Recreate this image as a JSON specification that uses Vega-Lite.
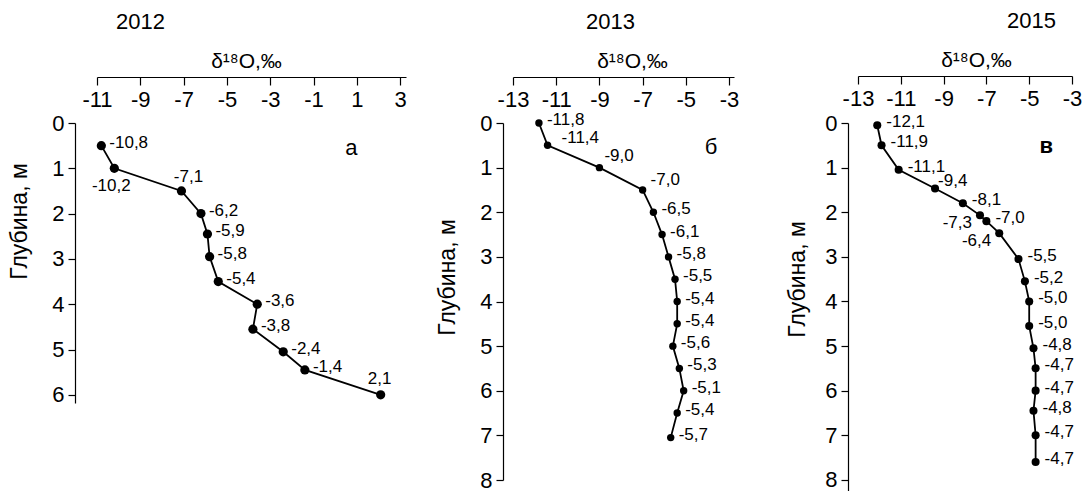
{
  "$schema": "https://vega.github.io/schema/vega-lite/v6.json",
  "padding": {"left": 8, "top": 10, "right": 0, "bottom": 0},
  "spacing": 20,
  "bounds": "flush",
  "config": {
    "view": {"stroke": null},
    "font": "Liberation Sans",
    "axis": {"grid": false, "domainColor": "black", "tickColor": "black", "labelColor": "black", "titleColor": "black", "titleFontWeight": "normal", "domainWidth": 1.2, "tickWidth": 1.2, "labelFont": "Liberation Sans", "titleFont": "Liberation Sans", "labelExpr": "'' + datum.value", "labelFlush": false, "labelOverlap": false},
    "title": {"font": "Liberation Sans", "fontSize": 22, "fontWeight": "normal", "color": "black", "anchor": "start", "frame": "group", "offset": 16},
    "text": {"font": "Liberation Sans", "fontSize": 17, "color": "black"}
  },
  "datasets": {
    "p2012": [
      {"depth": 0.5, "d18O": -10.8, "label": "-10,8"},
      {"depth": 1.0, "d18O": -10.2, "label": "-10,2"},
      {"depth": 1.5, "d18O": -7.1, "label": "-7,1"},
      {"depth": 2.0, "d18O": -6.2, "label": "-6,2"},
      {"depth": 2.45, "d18O": -5.9, "label": "-5,9"},
      {"depth": 2.95, "d18O": -5.8, "label": "-5,8"},
      {"depth": 3.5, "d18O": -5.4, "label": "-5,4"},
      {"depth": 4.0, "d18O": -3.6, "label": "-3,6"},
      {"depth": 4.55, "d18O": -3.8, "label": "-3,8"},
      {"depth": 5.05, "d18O": -2.4, "label": "-2,4"},
      {"depth": 5.45, "d18O": -1.4, "label": "-1,4"},
      {"depth": 6.0, "d18O": 2.1, "label": "2,1"}
    ],
    "p2013": [
      {"depth": 0.0, "d18O": -11.8, "label": "-11,8"},
      {"depth": 0.5, "d18O": -11.4, "label": "-11,4"},
      {"depth": 1.0, "d18O": -9.0, "label": "-9,0"},
      {"depth": 1.5, "d18O": -7.0, "label": "-7,0"},
      {"depth": 2.0, "d18O": -6.5, "label": "-6,5"},
      {"depth": 2.5, "d18O": -6.1, "label": "-6,1"},
      {"depth": 3.0, "d18O": -5.8, "label": "-5,8"},
      {"depth": 3.5, "d18O": -5.5, "label": "-5,5"},
      {"depth": 4.0, "d18O": -5.4, "label": "-5,4"},
      {"depth": 4.5, "d18O": -5.4, "label": "-5,4"},
      {"depth": 5.0, "d18O": -5.6, "label": "-5,6"},
      {"depth": 5.5, "d18O": -5.3, "label": "-5,3"},
      {"depth": 6.0, "d18O": -5.1, "label": "-5,1"},
      {"depth": 6.5, "d18O": -5.4, "label": "-5,4"},
      {"depth": 7.05, "d18O": -5.7, "label": "-5,7"}
    ],
    "p2015": [
      {"depth": 0.05, "d18O": -12.1, "label": "-12,1"},
      {"depth": 0.5, "d18O": -11.9, "label": "-11,9"},
      {"depth": 1.05, "d18O": -11.1, "label": "-11,1"},
      {"depth": 1.47, "d18O": -9.4, "label": "-9,4"},
      {"depth": 1.8, "d18O": -8.1, "label": "-8,1"},
      {"depth": 2.07, "d18O": -7.3, "label": "-7,3"},
      {"depth": 2.2, "d18O": -7.0, "label": "-7,0"},
      {"depth": 2.47, "d18O": -6.4, "label": "-6,4"},
      {"depth": 3.05, "d18O": -5.5, "label": "-5,5"},
      {"depth": 3.55, "d18O": -5.2, "label": "-5,2"},
      {"depth": 4.0, "d18O": -5.0, "label": "-5,0"},
      {"depth": 4.55, "d18O": -5.0, "label": "-5,0"},
      {"depth": 5.05, "d18O": -4.8, "label": "-4,8"},
      {"depth": 5.5, "d18O": -4.7, "label": "-4,7"},
      {"depth": 6.0, "d18O": -4.7, "label": "-4,7"},
      {"depth": 6.45, "d18O": -4.8, "label": "-4,8"},
      {"depth": 7.0, "d18O": -4.7, "label": "-4,7"},
      {"depth": 7.6, "d18O": -4.7, "label": "-4,7"}
    ]
  },
  "hconcat": [
    {
      "title": {"text": "2012", "dx": 19},
      "width": 396,
      "height": 280,
      "data": {"name": "p2012"},
      "encoding": {
        "x": {"field": "d18O", "type": "quantitative", "scale": {"domain": [-11, 3.27], "range": [0, 309], "nice": false, "zero": false},
          "axis": {"orient": "bottom", "offset": -326, "values": [-11, -9, -7, -5, -3, -1, 1, 3], "tickSize": 8, "labelPadding": 4, "labelFontSize": 22, "title": "δ¹⁸O,‰", "titleFontSize": 21, "titleX": 149, "titleY": -10, "titleAlign": "center", "titleBaseline": "alphabetic"}},
        "y": {"field": "depth", "type": "quantitative", "scale": {"domain": [0, 6.18], "reverse": true, "nice": false, "zero": false},
          "axis": {"orient": "left", "offset": 22, "values": [0, 1, 2, 3, 4, 5, 6], "tickSize": 7, "labelPadding": 4, "labelFontSize": 22, "title": "Глубина, м", "titleFontSize": 23, "titleX": -56, "titleY": 98, "titleAlign": "center", "titleBaseline": "middle", "titleAngle": -90}}
      },
      "layer": [
        {"mark": {"type": "line", "color": "black", "strokeWidth": 1.8}, "encoding": {"order": {"field": "depth", "type": "quantitative"}}},
        {"mark": {"type": "point", "filled": true, "color": "black", "opacity": 1, "size": 85}},
        {"transform": [{"filter": "datum.depth != 1 && datum.depth != 1.5 && datum.depth != 6"}], "mark": {"type": "text", "align": "left", "baseline": "middle", "dx": 8, "dy": -3}, "encoding": {"text": {"field": "label"}}},
        {"transform": [{"filter": "datum.depth == 1"}], "mark": {"type": "text", "align": "center", "baseline": "middle", "dx": -3, "dy": 18}, "encoding": {"text": {"field": "label"}}},
        {"transform": [{"filter": "datum.depth == 1.5"}], "mark": {"type": "text", "align": "center", "baseline": "middle", "dx": 7, "dy": -14}, "encoding": {"text": {"field": "label"}}},
        {"transform": [{"filter": "datum.depth == 6"}], "mark": {"type": "text", "align": "center", "baseline": "middle", "dx": -1, "dy": -16}, "encoding": {"text": {"field": "label"}}},
        {"data": {"values": [{"d18O": 0.75, "depth": 0.55, "label": "а"}]}, "mark": {"type": "text", "align": "center", "baseline": "middle", "fontSize": 22}, "encoding": {"text": {"field": "label"}}}
      ]
    },
    {
      "title": {"text": "2013", "dx": 73},
      "width": 325,
      "height": 357,
      "data": {"name": "p2013"},
      "encoding": {
        "x": {"field": "d18O", "type": "quantitative", "scale": {"domain": [-13, -2.77], "range": [0, 221], "nice": false, "zero": false},
          "axis": {"orient": "bottom", "offset": -403, "values": [-13, -11, -9, -7, -5, -3], "tickSize": 8, "labelPadding": 4, "labelFontSize": 22, "title": "δ¹⁸O,‰", "titleFontSize": 21, "titleX": 119, "titleY": -10, "titleAlign": "center", "titleBaseline": "alphabetic"}},
        "y": {"field": "depth", "type": "quantitative", "scale": {"domain": [0, 8], "reverse": true, "nice": false, "zero": false},
          "axis": {"orient": "left", "offset": 10, "values": [0, 1, 2, 3, 4, 5, 6, 7, 8], "tickSize": 7, "labelPadding": 4, "labelFontSize": 22, "title": "Глубина, м", "titleFontSize": 23, "titleX": -56, "titleY": 154, "titleAlign": "center", "titleBaseline": "middle", "titleAngle": -90}}
      },
      "layer": [
        {"mark": {"type": "line", "color": "black", "strokeWidth": 1.8}, "encoding": {"order": {"field": "depth", "type": "quantitative"}}},
        {"mark": {"type": "point", "filled": true, "color": "black", "opacity": 1, "size": 55}},
        {"transform": [{"filter": "datum.depth != 0.5 && datum.depth != 1 && datum.depth != 1.5"}], "mark": {"type": "text", "align": "left", "baseline": "middle", "dx": 8, "dy": -3}, "encoding": {"text": {"field": "label"}}},
        {"transform": [{"filter": "datum.depth == 0.5"}], "mark": {"type": "text", "align": "left", "baseline": "middle", "dx": 14, "dy": -7}, "encoding": {"text": {"field": "label"}}},
        {"transform": [{"filter": "datum.depth == 1"}], "mark": {"type": "text", "align": "left", "baseline": "middle", "dx": 5, "dy": -12}, "encoding": {"text": {"field": "label"}}},
        {"transform": [{"filter": "datum.depth == 1.5"}], "mark": {"type": "text", "align": "left", "baseline": "middle", "dx": 8, "dy": -10}, "encoding": {"text": {"field": "label"}}},
        {"data": {"values": [{"d18O": -3.83, "depth": 0.53, "label": "б"}]}, "mark": {"type": "text", "align": "center", "baseline": "middle", "fontSize": 22}, "encoding": {"text": {"field": "label"}}}
      ]
    },
    {
      "title": {"text": "2015", "dx": 149},
      "width": 214,
      "height": 368,
      "data": {"name": "p2015"},
      "encoding": {
        "x": {"field": "d18O", "type": "quantitative", "scale": {"domain": [-13, -3], "range": [0, 214], "nice": false, "zero": false},
          "axis": {"orient": "bottom", "offset": -415, "values": [-13, -11, -9, -7, -5, -3], "tickSize": 8, "labelPadding": 4, "labelFontSize": 22, "title": "δ¹⁸O,‰", "titleFontSize": 21, "titleX": 118, "titleY": -10, "titleAlign": "center", "titleBaseline": "alphabetic"}},
        "y": {"field": "depth", "type": "quantitative", "scale": {"domain": [0, 8.25], "reverse": true, "nice": false, "zero": false},
          "axis": {"orient": "left", "offset": 10, "values": [0, 1, 2, 3, 4, 5, 6, 7, 8], "tickSize": 7, "labelPadding": 4, "labelFontSize": 22, "title": "Глубина, м", "titleFontSize": 23, "titleX": -51, "titleY": 156, "titleAlign": "center", "titleBaseline": "middle", "titleAngle": -90}}
      },
      "layer": [
        {"mark": {"type": "line", "color": "black", "strokeWidth": 1.8}, "encoding": {"order": {"field": "depth", "type": "quantitative"}}},
        {"mark": {"type": "point", "filled": true, "color": "black", "opacity": 1, "size": 65}},
        {"transform": [{"filter": "datum.depth != 2.07 && datum.depth != 2.47 && datum.depth != 1.47"}], "mark": {"type": "text", "align": "left", "baseline": "middle", "dx": 9, "dy": -3}, "encoding": {"text": {"field": "label"}}},
        {"transform": [{"filter": "datum.depth == 1.47"}], "mark": {"type": "text", "align": "left", "baseline": "middle", "dx": 3, "dy": -8}, "encoding": {"text": {"field": "label"}}},
        {"transform": [{"filter": "datum.depth == 2.07 || datum.depth == 2.47"}], "mark": {"type": "text", "align": "right", "baseline": "middle", "dx": -8, "dy": 8}, "encoding": {"text": {"field": "label"}}},
        {"data": {"values": [{"d18O": -4.2, "depth": 0.51, "label": "в"}]}, "mark": {"type": "text", "align": "center", "baseline": "middle", "fontSize": 22, "fontWeight": "bold"}, "encoding": {"text": {"field": "label"}}}
      ]
    }
  ]
}
